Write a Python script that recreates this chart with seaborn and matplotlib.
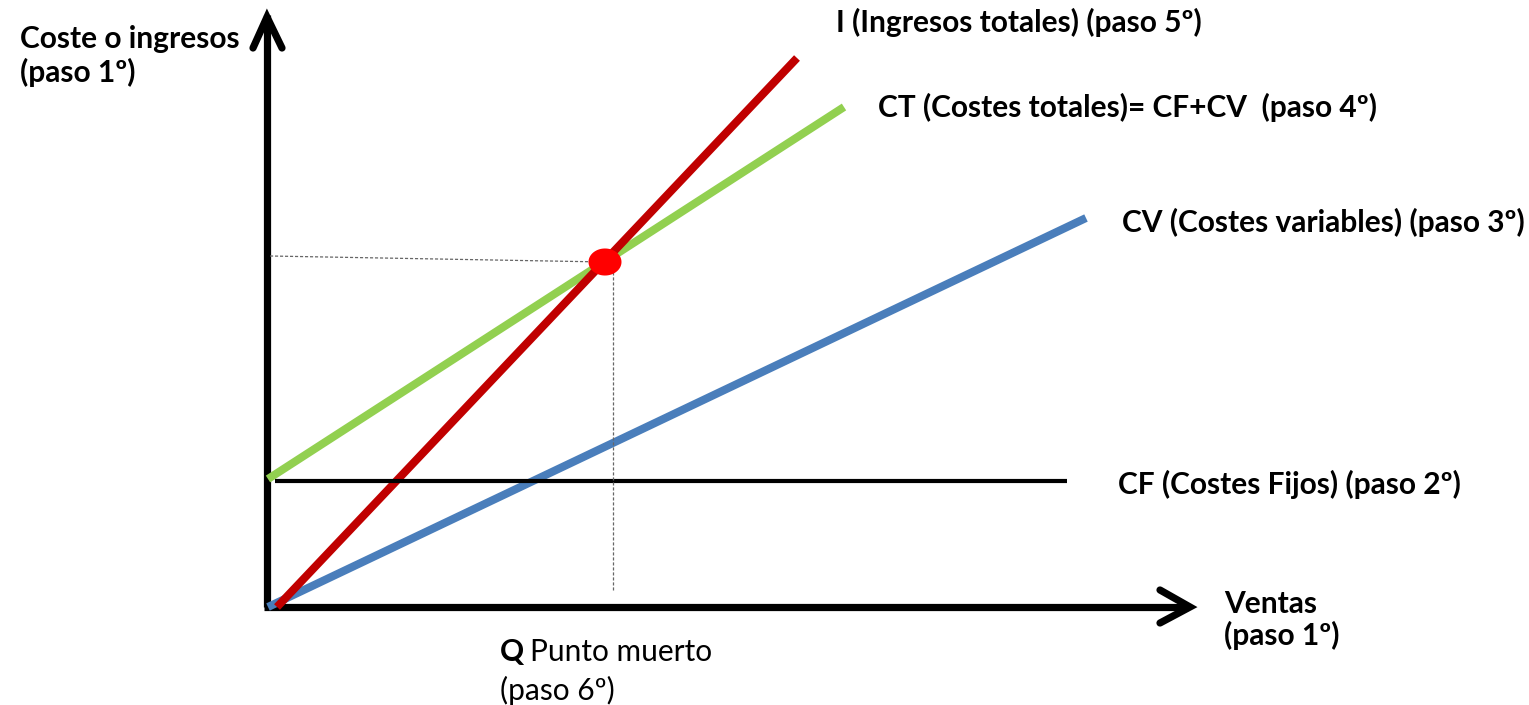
import matplotlib
matplotlib.use("Agg")
import matplotlib.pyplot as plt
import seaborn as sns
import pandas as pd
from matplotlib.path import Path
import numpy as np

# ---- data (units: chart units measured from the origin) ----
ingresos_x = [9, 529]
ingresos_y = [0, 549]
ct_x = [0, 576]
ct_y = [128, 500]
cv_x = [0, 818]
cv_y = [0, 389]
cf_x = [7, 799]
cf_y = [126, 126]
q_punto = [337]
q_valor = [345]

labels = {
    "I": "I (Ingresos totales) (paso 5º)",
    "CT": "CT (Costes totales)= CF+CV  (paso 4º)",
    "CV": "CV (Costes variables) (paso 3º)",
    "CF": "CF (Costes Fijos) (paso 2º)",
}

sns.set_theme(style="white")
plt.rcParams["font.family"] = ["Lato", "DejaVu Sans"]

W, H = 1529, 705
fig = plt.figure(figsize=(W / 100, H / 100), dpi=100)
ax = fig.add_axes([0, 0, 1, 1])
ax.set_xlim(-268, W - 268)
ax.set_ylim(607 - H, 607)
ax.axis("off")

df = pd.concat([
    pd.DataFrame({"x": cv_x, "y": cv_y, "serie": "CV"}),
    pd.DataFrame({"x": ct_x, "y": ct_y, "serie": "CT"}),
    pd.DataFrame({"x": ingresos_x, "y": ingresos_y, "serie": "I"}),
])
palette = {"CV": "#4a7ebb", "CT": "#92d050", "I": "#c00000"}
sns.lineplot(data=df, x="x", y="y", hue="serie", palette=palette,
             linewidth=5.8, legend=False, ax=ax, estimator=None, sort=False,
             solid_capstyle="butt")
sns.lineplot(x=cf_x, y=cf_y, color="black", linewidth=3.0, ax=ax,
             estimator=None, solid_capstyle="butt")

# guides to break-even point
ax.plot([2, q_punto[0]], [351, q_valor[0]], color="#666666", lw=0.9,
        ls=(0, (2.5, 1.5)))
ax.plot([q_punto[0] + 8, q_punto[0] + 8], [17, q_valor[0] - 8], color="#666666",
        lw=0.9, ls=(0, (2.5, 1.5)))

# axes with open arrowheads
axis_kw = dict(color="black", lw=5.2, solid_capstyle="butt", zorder=1)
ax.plot([-1, -1], [0, 592], **axis_kw)
ax.plot([-4, 920], [0, 0], **axis_kw)
head_kw = dict(color="black", lw=5.2, solid_capstyle="round",
               solid_joinstyle="miter", zorder=1)
ax.plot([-15, -1, 14], [559, 590, 559], **head_kw)
ax.plot([892, 922, 892], [17, 0, -16], **head_kw)

# break-even point (ellipse marker)
t = np.linspace(0, 2 * np.pi, 60)
ell = Path(np.column_stack([np.cos(t), 0.82 * np.sin(t)]), closed=True)
sns.scatterplot(x=q_punto, y=q_valor, marker=ell, s=(33 * 0.72) ** 2,
                color="#ff0000", edgecolor="none", ax=ax, zorder=5)

fs = 21.5
tkw = dict(fontsize=fs, fontweight="bold", color="black", ha="left", va="center")
ax.text(568, 585, labels["I"], **tkw)
ax.text(610, 500, labels["CT"], **tkw)
ax.text(854, 385, labels["CV"], **tkw)
ax.text(850, 123, labels["CF"], **tkw)
ax.text(-248, 551, "Coste o ingresos\n(paso 1º)", linespacing=1.22, **tkw)
ax.text(956, -13, "Ventas\n(paso 1º)", linespacing=1.15, **tkw)
ax.text(232, -45, "Q", **tkw)
ax.text(262, -45, "Punto muerto", fontsize=fs, color="black", ha="left", va="center")
ax.text(232, -83, "(paso 6º)", fontsize=fs, color="black", ha="left", va="center")

fig.savefig("out.png", dpi=100)
